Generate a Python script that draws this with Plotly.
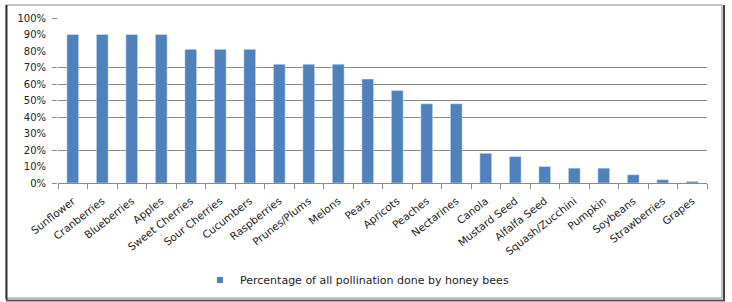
import plotly.graph_objects as go

categories = ["Sunflower", "Cranberries", "Blueberries", "Apples", "Sweet Cherries",
              "Sour Cherries", "Cucumbers", "Raspberries", "Prunes/Plums", "Melons",
              "Pears", "Apricots", "Peaches", "Nectarines", "Canola", "Mustard Seed",
              "Alfalfa Seed", "Squash/Zucchini", "Pumpkin", "Soybeans", "Strawberries",
              "Grapes"]
values = [0.90, 0.90, 0.90, 0.90, 0.81, 0.81, 0.81, 0.72, 0.72, 0.72,
          0.63, 0.56, 0.48, 0.48, 0.18, 0.16, 0.10, 0.09, 0.09, 0.05, 0.02, 0.01]
series_name = "Percentage of all pollination done by honey bees"
y_ticks = [0, 0.1, 0.2, 0.3, 0.4, 0.5, 0.6, 0.7, 0.8, 0.9, 1.0]
grid_levels = [0, 0.2, 0.4, 0.5, 0.6, 0.7, 1.0]

BLUE = "#4f81bd"
FONT = "DejaVu Sans"
W, H = 732, 302
L, R, T, B = 58, 25, 18, 119
pw, ph = W - L - R, H - T - B


def px(x):
    return (x - L) / pw


def py(y):
    return (H - B - y) / ph


fig = go.Figure()
fig.add_trace(go.Bar(x=categories, y=values, marker_color=BLUE, showlegend=False,
                     name=series_name))
fig.add_trace(go.Scatter(x=[None], y=[None], mode="markers", name=series_name,
                         marker=dict(symbol="square", size=6, color=BLUE),
                         yaxis="y2"))

shapes = [
    dict(type="rect", xref="paper", yref="paper", x0=px(6), x1=px(722), y0=py(5), y1=py(298),
         line=dict(color="#8a8a8a", width=1)),
    dict(type="line", xref="paper", yref="paper", x0=px(6.5), x1=px(6.5), y0=py(5), y1=py(300),
         line=dict(color="#333333", width=2)),
    dict(type="line", xref="paper", yref="paper", x0=px(724), x1=px(724), y0=py(5), y1=py(301),
         line=dict(color="#444444", width=2)),
    dict(type="line", xref="paper", yref="paper", x0=px(6), x1=px(725), y0=py(300.5), y1=py(300.5),
         line=dict(color="#555555", width=2)),
]

fig.update_layout(
    width=W, height=H,
    margin=dict(l=L, r=R, t=T, b=B, autoexpand=False),
    paper_bgcolor="white", plot_bgcolor="white",
    bargap=0.6,
    font=dict(family=FONT, size=10, color="#222222"),
    showlegend=True,
    legend=dict(orientation="h", x=px(200), xanchor="left", y=py(280), yanchor="middle",
                font=dict(family=FONT, size=11, color="#222222"), itemwidth=30),
    xaxis=dict(showline=True, linecolor="#8a8a8a", linewidth=1, ticks="outside",
               tickson="boundaries", ticklen=5, tickcolor="#8a8a8a", tickangle=-38,
               ticklabelstandoff=7, automargin=False,
               showgrid=False, tickfont=dict(family=FONT, size=10.5, color="#222222")),
    yaxis=dict(range=[0, 1], tickvals=y_ticks, tickformat=".0%", showgrid=False,
               zeroline=False, showline=False, ticks="outside", ticklen=9, automargin=False,
               tickcolor="rgba(0,0,0,0)", tickfont=dict(family=FONT, size=10, color="#222222")),
    yaxis2=dict(range=[0, 1], overlaying="y", side="left", tickvals=grid_levels,
                showticklabels=False, showgrid=True, gridcolor="#8a8a8a", gridwidth=1,
                ticks="outside", ticklen=5, tickcolor="#8a8a8a", zeroline=False,
                automargin=False),
    shapes=shapes,
)

fig.write_html("out.html")
